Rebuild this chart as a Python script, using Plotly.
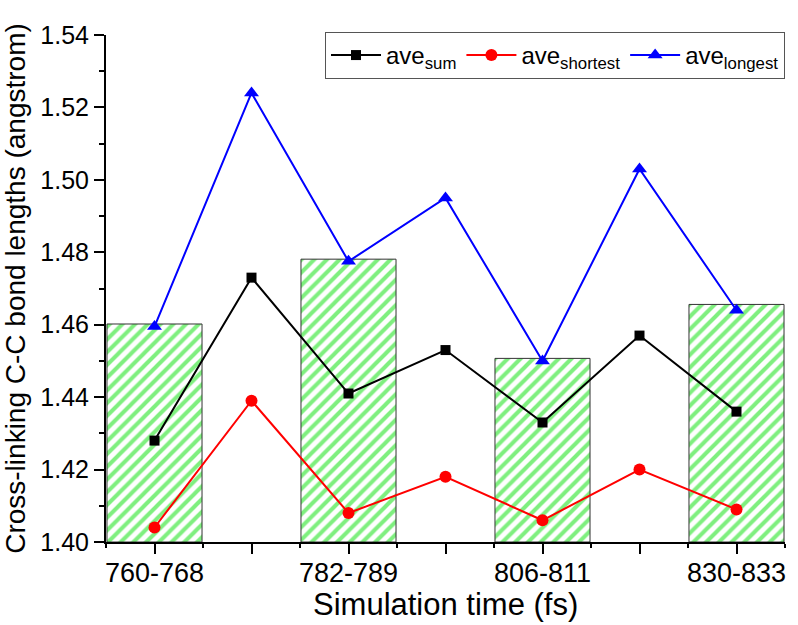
import plotly.graph_objects as go

# Time windows (every other slot carries a label)
x_pos = [0, 1, 2, 3, 4, 5, 6]
tick_text = ["760-768", "", "782-789", "", "806-811", "", "830-833"]

# Average cross-linking C-C bond lengths (angstrom)
ave_sum = [1.428, 1.473, 1.441, 1.453, 1.433, 1.457, 1.436]
ave_shortest = [1.404, 1.439, 1.408, 1.418, 1.406, 1.420, 1.409]
ave_longest = [1.4595, 1.524, 1.4775, 1.495, 1.450, 1.503, 1.464]

# Hatched bars at the labelled windows
bar_pos = [0, 2, 4, 6]
bar_vals = [1.4602, 1.4781, 1.4507, 1.4656]

FONT = "Liberation Sans, Arial, sans-serif"
Y0 = 1.40

fig = go.Figure()

fig.add_trace(go.Bar(
    x=bar_pos,
    y=[v - Y0 for v in bar_vals],
    base=Y0,
    width=0.98,
    marker=dict(
        color="white",
        line=dict(color="#333333", width=1),
        pattern=dict(shape="/", fgcolor="#00e000", bgcolor="white",
                     size=9, solidity=0.45, fillmode="overlay"),
    ),
    showlegend=False,
    hoverinfo="skip",
))

series = [
    ("ave<sub>sum</sub>", ave_sum, "black", "square", 10),
    ("ave<sub>shortest</sub>", ave_shortest, "red", "circle", 12),
    ("ave<sub>longest</sub>", ave_longest, "blue", "triangle-up", 13),
]
for name, vals, col, sym, sz in series:
    fig.add_trace(go.Scatter(
        x=x_pos, y=vals, name=name, mode="lines+markers",
        line=dict(color=col, width=2),
        marker=dict(color=col, symbol=sym, size=sz),
    ))

fig.update_layout(
    width=798, height=625,
    margin=dict(l=106, r=13, t=35, b=83),
    plot_bgcolor="white", paper_bgcolor="white",
    font=dict(family=FONT, color="black"),
    barmode="overlay",
    legend=dict(
        orientation="h",
        x=1.0, xanchor="right", y=1.006, yanchor="top",
        bgcolor="white", bordercolor="#555555", borderwidth=1,
        font=dict(size=24, family=FONT),
        itemwidth=50, tracegroupgap=0,
    ),
    xaxis=dict(
        range=[-0.5, 6.5],
        automargin=False,
        tickmode="array", tickvals=x_pos, ticktext=tick_text,
        ticks="outside", ticklen=10, tickwidth=1.5, tickcolor="black",
        ticklabelstandoff=-4,
        minor=dict(tickmode="array", tickvals=[-0.5, 0.5, 1.5, 2.5, 3.5, 4.5, 5.5, 6.5],
                   ticks="outside", ticklen=4, tickwidth=1.5, tickcolor="black"),
        showline=True, linecolor="black", linewidth=2,
        showgrid=False, zeroline=False,
        tickfont=dict(size=27, family=FONT),
    ),
    yaxis=dict(
        range=[1.40, 1.54],
        automargin=False,
        tickmode="array",
        tickvals=[1.40, 1.42, 1.44, 1.46, 1.48, 1.50, 1.52, 1.54],
        ticktext=["1.40", "1.42", "1.44", "1.46", "1.48", "1.50", "1.52", "1.54"],
        ticks="outside", ticklen=10, tickwidth=1.5, tickcolor="black",
        minor=dict(tickmode="array", tickvals=[1.41, 1.43, 1.45, 1.47, 1.49, 1.51, 1.53],
                   ticks="outside", ticklen=5, tickwidth=1.5, tickcolor="black"),
        showline=True, linecolor="black", linewidth=2,
        showgrid=False, zeroline=False,
        tickfont=dict(size=25, family=FONT),
        title=dict(text="Cross-linking C-C bond lengths (angstrom)",
                   font=dict(size=28, family=FONT)),
    ),
)

# x-axis title placed below the tick labels
fig.add_annotation(
    text="Simulation time (fs)",
    xref="paper", yref="paper", x=0.5, y=-0.124,
    xanchor="center", yanchor="middle", showarrow=False,
    font=dict(size=31, family=FONT, color="black"),
)

fig.write_html("out.html")
